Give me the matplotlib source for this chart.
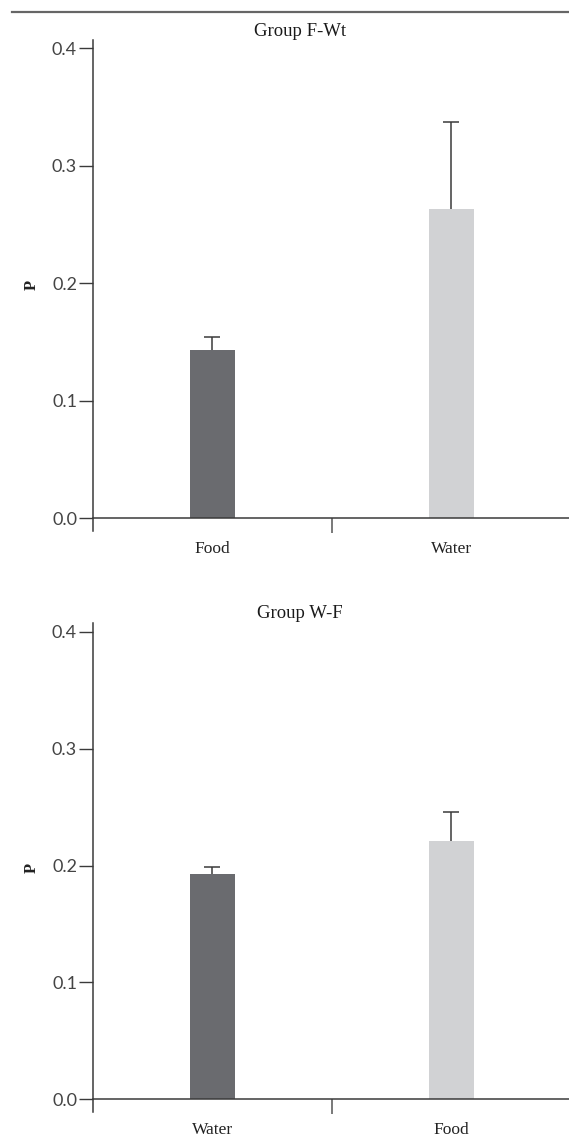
import matplotlib.pyplot as plt
from matplotlib.ticker import FixedLocator

# mean P per group with upper error (SE)
top_labels = ['Food', 'Water']
top_means = [0.143, 0.263]
top_err = [0.011, 0.074]

bottom_labels = ['Water', 'Food']
bottom_means = [0.193, 0.221]
bottom_err = [0.006, 0.025]

y_ticks = [0.0, 0.1, 0.2, 0.3, 0.4]

bar_colors = ['#6a6b6f', '#d1d2d4']
axis_color = '#3a3a3a'

fig = plt.figure(figsize=(5.69, 11.41), dpi=100)

# horizontal rule across the top
fig.add_artist(plt.Line2D([12 / 569, 1.0], [1 - 12 / 1141] * 2,
                          color='#666666', lw=1.6, transform=fig.transFigure))


def draw_panel(rect, title, labels, means, errs, title_y):
    ax = fig.add_axes(rect)
    x = [0, 1]
    ax.bar(x, means, width=0.19, color=bar_colors, zorder=2)

    # upper-only error bars: stem from bar top plus a cap
    tops = [m + e for m, e in zip(means, errs)]
    ax.vlines(x, means, tops, color=axis_color, lw=1.1, zorder=3)
    ax.plot(x, tops, ls='none', marker='_', ms=11, mew=1.1,
            color=axis_color, zorder=3)

    ax.set_xlim(-0.5, 1.5)
    ax.set_ylim(-0.011, 0.407)
    for side in ['top', 'right']:
        ax.spines[side].set_visible(False)
    ax.spines['bottom'].set_position(('data', 0))
    for side in ['left', 'bottom']:
        ax.spines[side].set_color(axis_color)
        ax.spines[side].set_linewidth(1.1)

    ax.set_yticks(y_ticks)
    ax.set_yticklabels([f'{v:.1f}' for v in y_ticks], family='Lato',
                       fontsize=13, color='#444444')
    ax.tick_params(axis='y', direction='out', length=10, width=1.0,
                   color=axis_color, pad=1.5)

    ax.set_xticks(x)
    ax.set_xticklabels(labels, family='Liberation Serif', fontsize=12.5,
                       color='#222222')
    ax.tick_params(axis='x', which='major', length=0, pad=16.5)
    ax.xaxis.set_minor_locator(FixedLocator([0.5]))
    ax.tick_params(axis='x', which='minor', direction='out', length=11,
                   width=1.1, color='#555555')

    ax.set_ylabel('P', family='Liberation Serif', fontsize=12,
                  fontweight='bold', color='#222222', labelpad=9)
    fig.text(300 / 569, title_y, title, ha='center', va='center',
             family='Liberation Serif', fontsize=13.5, color='#1a1a1a')
    return ax


draw_panel([0.1634, 0.5346, 0.840, 0.4305], 'Group F-Wt',
           top_labels, top_means, top_err, 1 - 32 / 1141)
draw_panel([0.1634, 0.0251, 0.840, 0.4286], 'Group W-F',
           bottom_labels, bottom_means, bottom_err, 1 - 613 / 1141)

fig.savefig('out.png', dpi=100)
